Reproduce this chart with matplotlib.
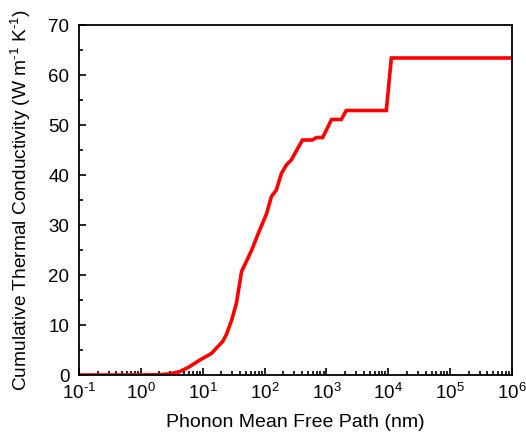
import numpy as np
import matplotlib
matplotlib.use("Agg")
import matplotlib.pyplot as plt
from matplotlib.ticker import LogLocator, MultipleLocator, NullFormatter, FuncFormatter

plt.rcParams['font.family'] = ['Liberation Sans', 'DejaVu Sans']
plt.rcParams['mathtext.fontset'] = 'custom'
plt.rcParams['mathtext.rm'] = 'Liberation Sans'
plt.rcParams['mathtext.it'] = 'Liberation Sans:italic'
plt.rcParams['axes.unicode_minus'] = False

# mean free path (nm) and cumulative conductivity (W/mK)
mfp = [0.1, 1.0, 2.0, 3.0, 4.3, 6.0, 9.0, 13.8, 21, 24, 29.4, 35, 42.5, 62, 79,
       108, 129, 155, 187, 225, 270, 410, 590, 690, 870, 1210, 1740, 2090,
       9300, 11200, 1e6]
kappa = [0.0, 0.0, 0.05, 0.25, 0.7, 1.6, 3.0, 4.3, 6.7, 8.0, 11.0, 14.3, 20.7,
         25.0, 28.3, 32.3, 35.7, 37.0, 40.3, 42.0, 43.0, 47.0, 47.0, 47.5, 47.5,
         51.1, 51.1, 52.9, 52.9, 63.4, 63.4]


def dec_fmt(v, pos):
    n = int(round(np.log10(v)))
    s = r'\text{-}%d' % abs(n) if n < 0 else '%d' % n
    return r'$\mathdefault{10^{%s}}$' % s


fig = plt.figure(figsize=(5.26, 4.38), dpi=100)
ax = fig.add_axes([79/526, 63/438, 433/526, 350/438])

ax.plot(mfp, kappa, color='#ff0000', lw=2.6, solid_joinstyle='miter')

ax.set_xscale('log')
ax.set_xlim(1e-1, 1e6)
ax.set_ylim(0, 70)
ax.yaxis.set_major_locator(MultipleLocator(10))
ax.yaxis.set_minor_locator(MultipleLocator(5))
ax.xaxis.set_major_locator(LogLocator(base=10, numticks=20))
ax.xaxis.set_minor_locator(LogLocator(base=10, subs=np.arange(2, 10), numticks=20))
ax.xaxis.set_major_formatter(FuncFormatter(dec_fmt))
ax.xaxis.set_minor_formatter(NullFormatter())

for s in ax.spines.values():
    s.set_linewidth(1.3)
ax.tick_params(which='both', direction='in', top=False, right=False, width=1.2,
               labelsize=13.5)
ax.tick_params(which='major', length=5)
ax.tick_params(which='minor', length=3)
ax.tick_params(axis='x', which='major', pad=6)
ax.tick_params(axis='y', which='major', pad=7)

ax.set_xlabel('Phonon Mean Free Path (nm)', fontsize=14)
ax.set_ylabel(r'Cumulative Thermal Conductivity (W m$^{\text{-}1}$ K$^{\text{-}1}$)',
              fontsize=13.8)
ax.xaxis.set_label_coords(0.5, -39/350)
ax.yaxis.set_label_coords(-46/433, 0.5)

fig.savefig('out.png', dpi=100)
